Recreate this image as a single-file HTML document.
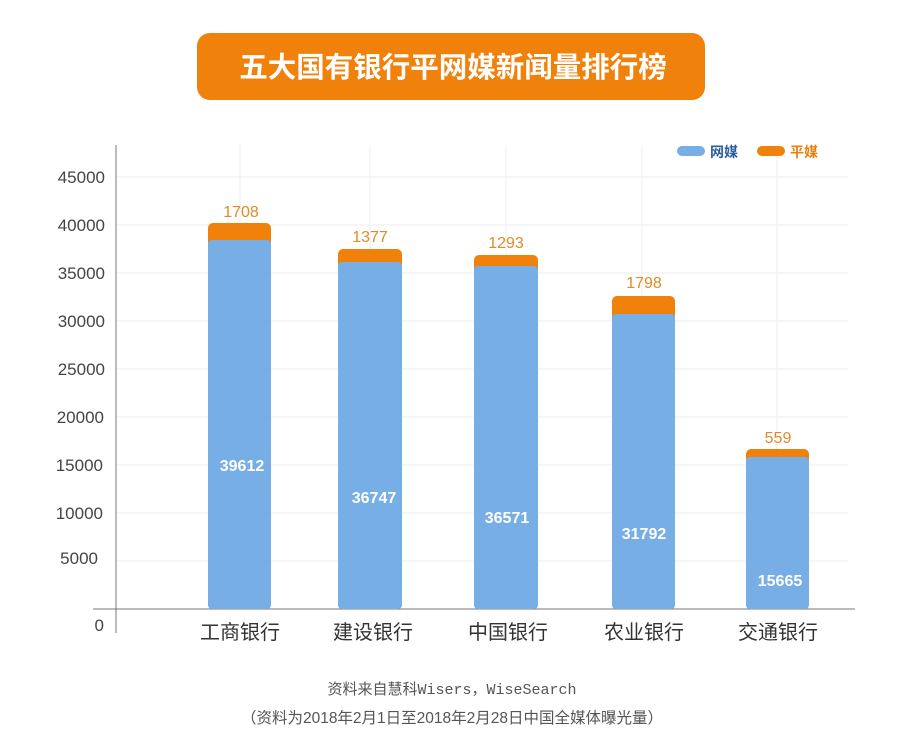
<!DOCTYPE html>
<html><head><meta charset="utf-8"><style>
html,body{margin:0;padding:0;background:#fff;width:900px;height:750px;overflow:hidden}
text{font-family:"Liberation Sans","Noto Sans CJK SC",sans-serif}
</style></head><body>
<svg width="900" height="750" xmlns="http://www.w3.org/2000/svg">
<rect x="197" y="33" width="508" height="67" rx="13" fill="#f0810a"/>
<text x="453" y="77" text-anchor="middle" font-size="28.5" font-weight="bold" fill="#fff">五大国有银行平网媒新闻量排行榜</text>
<g stroke="#eeeeee" stroke-width="1">
<line x1="116" y1="177" x2="848" y2="177"/><line x1="116" y1="225" x2="848" y2="225"/>
<line x1="116" y1="273" x2="848" y2="273"/><line x1="116" y1="321" x2="848" y2="321"/>
<line x1="116" y1="369" x2="848" y2="369"/><line x1="116" y1="417" x2="848" y2="417"/>
<line x1="116" y1="465" x2="848" y2="465"/><line x1="116" y1="513" x2="848" y2="513"/>
<line x1="116" y1="561" x2="848" y2="561"/>
<line x1="240" y1="145" x2="240" y2="609"/><line x1="370" y1="145" x2="370" y2="609"/>
<line x1="506" y1="145" x2="506" y2="609"/><line x1="642" y1="145" x2="642" y2="609"/>
<line x1="777" y1="145" x2="777" y2="609"/>
</g>
<line x1="116" y1="145" x2="116" y2="633" stroke="#777" stroke-width="1"/>
<line x1="93" y1="609" x2="855" y2="609" stroke="#777" stroke-width="1"/>
<g font-size="17" fill="#444" text-anchor="end">
<text x="105" y="183">45000</text><text x="105" y="231">40000</text><text x="105" y="279">35000</text>
<text x="105" y="327">30000</text><text x="105" y="375">25000</text><text x="104" y="423">20000</text>
<text x="103" y="471">15000</text><text x="103" y="519">10000</text><text x="98" y="564">5000</text>
<text x="104" y="631">0</text>
</g>
<g fill="#f0810a">
<rect x="208" y="223" width="63" height="30" rx="5"/><rect x="338" y="249" width="64" height="30" rx="5"/>
<rect x="474" y="255" width="64" height="30" rx="5"/><rect x="612" y="296" width="63" height="30" rx="5"/>
<rect x="746" y="449" width="63" height="30" rx="5"/>
</g>
<g fill="#77aee5">
<rect x="208" y="240" width="63" height="369" rx="4"/><rect x="338" y="262" width="64" height="347" rx="4"/>
<rect x="474" y="266" width="64" height="343" rx="4"/><rect x="612" y="314" width="63" height="295" rx="4"/>
<rect x="746" y="457" width="63" height="152" rx="4"/>
</g>
<g font-size="16" fill="#e08a2a" text-anchor="middle">
<text x="241" y="217">1708</text><text x="370" y="242">1377</text><text x="506" y="248">1293</text>
<text x="644" y="288">1798</text><text x="778" y="443">559</text>
</g>
<g font-size="16" fill="#fff" text-anchor="middle" font-weight="bold">
<text x="242" y="471">39612</text><text x="374" y="503">36747</text><text x="507" y="523">36571</text>
<text x="644" y="539">31792</text><text x="780" y="586">15665</text>
</g>
<g font-size="20" fill="#333" text-anchor="middle">
<text x="240" y="639">工商银行</text><text x="373" y="639">建设银行</text><text x="508" y="639">中国银行</text>
<text x="644" y="639">农业银行</text><text x="778" y="639">交通银行</text>
</g>
<rect x="677" y="146" width="28" height="10" rx="5" fill="#77aee5"/>
<text x="710" y="157" font-size="14" font-weight="bold" fill="#2a5d9b">网媒</text>
<rect x="757" y="146" width="28" height="10" rx="5" fill="#f0810a"/>
<text x="790" y="157" font-size="14" font-weight="bold" fill="#e8800e">平媒</text>
<text x="452" y="694" text-anchor="middle" font-size="15" fill="#555" style='font-family:"Liberation Mono","Noto Sans CJK SC",monospace'>资料来自慧科Wisers，WiseSearch</text>
<text x="452" y="723" text-anchor="middle" font-size="15.5" fill="#555">（资料为2018年2月1日至2018年2月28日中国全媒体曝光量）</text>
</svg>
</body></html>
